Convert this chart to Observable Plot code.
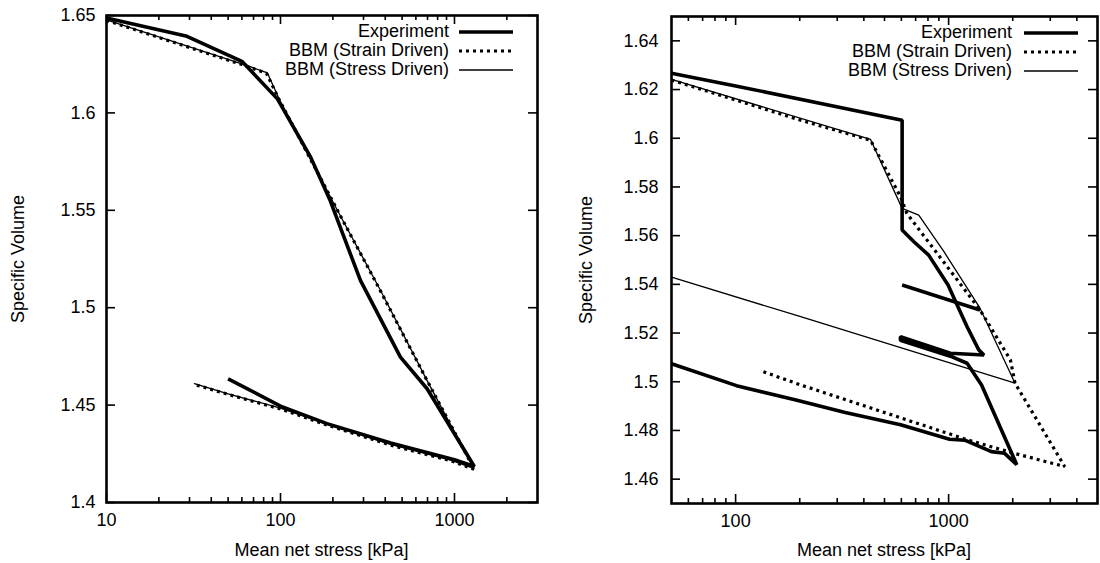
<!DOCTYPE html>
<html><head><meta charset="utf-8">
<script src="https://cdn.jsdelivr.net/npm/d3@7"></script>
<script src="https://cdn.jsdelivr.net/npm/@observablehq/plot@0.6"></script>
<style>
body{margin:0;background:#fff;font-family:"Liberation Sans",Arial,Helvetica,sans-serif;color:#000;}
#wrap{position:relative;width:1100px;height:563px;overflow:hidden;background:#fff;}
.panel{position:absolute;top:0;}
.ylab{position:absolute;transform:translate(-50%,-50%) rotate(-90deg);white-space:nowrap;font-size:18px;}
.xlab{position:absolute;transform:translate(-50%,-50%);white-space:nowrap;font-size:18px;}
.leg{position:absolute;font-size:18px;line-height:19px;white-space:nowrap;}
</style></head><body><div id="wrap"></div>
<script>
// ---------- data ----------
const seriesNames = ["Experiment", "BBM (Strain Driven)", "BBM (Stress Driven)"];

// left panel ticks
const leftXTicks = [10, 100, 1000];
const leftXMinor = [20, 30, 40, 50, 60, 70, 80, 90, 200, 300, 400, 500, 600, 700, 800, 900, 2000];
const leftYTicks = [1.4, 1.45, 1.5, 1.55, 1.6, 1.65];
// right panel ticks
const rightXTicks = [100, 1000];
const rightXMinor = [60, 70, 80, 90, 200, 300, 400, 500, 600, 700, 800, 900, 2000, 3000, 4000];
const rightYTicks = [1.46, 1.48, 1.5, 1.52, 1.54, 1.56, 1.58, 1.6, 1.62, 1.64];

// left panel series: [mean net stress kPa, specific volume]
const leftExperiment = [[
  [10, 1.6487], [29, 1.6393], [60, 1.6265], [96, 1.6072], [149, 1.5773], [193, 1.555],
  [288, 1.514], [489, 1.4746], [696, 1.4584], [1300, 1.4185],
  [1000, 1.422], [430, 1.4305], [185, 1.4405], [100, 1.4495], [50, 1.4635]
]];
const leftStrain = [[
  [10, 1.6475], [60, 1.6248], [83, 1.6204], [98, 1.607], [211, 1.5505], [366, 1.5105],
  [696, 1.4626], [1300, 1.417],
  [950, 1.4215], [428, 1.4295], [185, 1.4398], [100, 1.448], [50, 1.4555], [32, 1.4606]
]];
const leftStress = [[
  [10, 1.6478], [60, 1.6252], [84, 1.6206], [99, 1.6065], [210, 1.5508], [370, 1.51],
  [700, 1.4622], [1290, 1.4175],
  [950, 1.4218], [430, 1.4298], [185, 1.4402], [100, 1.4484], [50, 1.4558], [32, 1.461]
]];

// right panel series
const rightExperiment = [
  [[50, 1.6267], [100, 1.6215], [605, 1.6074], [605, 1.5623], [687, 1.5575], [806, 1.552],
   [994, 1.5397], [1087, 1.5322], [1221, 1.5226], [1385, 1.5131], [1465, 1.511],
   [1019, 1.5117], [594, 1.5185], [594, 1.517], [1019, 1.5105], [1221, 1.5076],
   [1428, 1.4987], [2089, 1.4659], [1832, 1.4706], [1588, 1.4713], [1191, 1.476],
   [1010, 1.4764], [595, 1.4823], [327, 1.4874], [192, 1.4925], [101, 1.4984], [50, 1.5074]],
  [[605, 1.5397], [1404, 1.5295]]
];
const rightStrain = [[
  [50, 1.6239], [202, 1.6074], [430, 1.5992], [595, 1.5759], [637, 1.5691], [1404, 1.5295],
  [1950, 1.509], [2050, 1.4994], [3505, 1.4652],
  [2013, 1.4707], [1221, 1.4762], [202, 1.4987], [134, 1.5042]
]];
const rightStress = [[
  [50, 1.6242], [430, 1.5995], [605, 1.5712], [724, 1.5684], [951, 1.5534], [1404, 1.5302],
  [2050, 1.4994], [202, 1.5267], [50, 1.543]
]];

// ---------- helpers ----------
function toRows(segments, name) {
  const out = [];
  segments.forEach((seg, i) => seg.forEach(([p, v]) => out.push({p, v, seg: name + i})));
  return out;
}

const wrap = document.getElementById("wrap");
const FONT = "Liberation Sans, Arial, Helvetica, sans-serif";

function panel(cfg) {
  const W = cfg.width, H = cfg.height;
  const iw = W - cfg.ml - cfg.mr, ih = H - cfg.mt - cfg.mb;
  const plot = Plot.plot({
    width: W, height: H,
    marginLeft: cfg.ml, marginRight: cfg.mr, marginTop: cfg.mt, marginBottom: cfg.mb,
    x: {type: "log", domain: cfg.xDomain},
    y: {domain: cfg.yDomain},
    style: {fontFamily: FONT, fontSize: "18px", color: "black", background: "white", overflow: "visible"},
    marks: [
      Plot.axisX({ticks: cfg.xTicks, tickSize: 0, tickPadding: 11, tickFormat: d => String(d), label: null, fontSize: 18}),
      Plot.axisY({ticks: cfg.yTicks, tickSize: 0, tickPadding: cfg.yPad, tickFormat: d => String(d), label: null, fontSize: 18}),
      // inward major ticks, bottom & top
      Plot.tickX(cfg.xTicks, {x: d => d, insetTop: ih - 9, stroke: "black", strokeWidth: 1.6}),
      Plot.tickX(cfg.xTicks, {x: d => d, insetBottom: ih - 9, stroke: "black", strokeWidth: 1.6}),
      // inward minor ticks
      Plot.tickX(cfg.xMinor, {x: d => d, insetTop: ih - 5, stroke: "black", strokeWidth: 1.6}),
      Plot.tickX(cfg.xMinor, {x: d => d, insetBottom: ih - 5, stroke: "black", strokeWidth: 1.6}),
      // y ticks, left & right
      Plot.tickY(cfg.yTicks, {y: d => d, insetRight: iw - 9, stroke: "black", strokeWidth: 1.6}),
      Plot.tickY(cfg.yTicks, {y: d => d, insetLeft: iw - 9, stroke: "black", strokeWidth: 1.6}),
      // series
      Plot.line(toRows(cfg.stress, "s"), {x: "p", y: "v", z: "seg", stroke: "black", strokeWidth: 1.3, curve: "linear"}),
      Plot.line(toRows(cfg.strain, "d"), {x: "p", y: "v", z: "seg", stroke: "black", strokeWidth: 3.2, strokeDasharray: "3,4", strokeLinecap: "butt", strokeLinejoin: "miter", curve: "linear"}),
      Plot.line(toRows(cfg.exp, "e"), {x: "p", y: "v", z: "seg", stroke: "black", strokeWidth: 3.6, strokeLinejoin: "miter", strokeLinecap: "butt", curve: "linear"}),
      Plot.frame({stroke: "black", strokeWidth: 2.6})
    ]
  });
  const div = document.createElement("div");
  div.className = "panel";
  div.style.left = cfg.left + "px";
  div.appendChild(plot);
  wrap.appendChild(div);

  // axis titles
  const yl = document.createElement("div");
  yl.className = "ylab"; yl.textContent = "Specific Volume";
  yl.style.left = cfg.yLabelX + "px"; yl.style.top = (cfg.mt + ih / 2) + "px";
  wrap.appendChild(yl);
  const xl = document.createElement("div");
  xl.className = "xlab"; xl.textContent = "Mean net stress [kPa]";
  xl.style.left = (cfg.left + cfg.ml + iw / 2) + "px"; xl.style.top = cfg.xLabelY + "px";
  wrap.appendChild(xl);

  // legend (inside plot, top right)
  const styles = [
    {w: 3.6, dash: null},
    {w: 3.2, dash: "3,4"},
    {w: 1.3, dash: null}
  ];
  seriesNames.forEach((name, i) => {
    const cy = cfg.legY[i];
    const t = document.createElement("div");
    t.className = "leg"; t.textContent = name;
    t.style.right = (1100 - cfg.legTextRight) + "px";
    t.style.top = (cy - 10) + "px";
    wrap.appendChild(t);
    const svg = d3.create("svg").attr("width", cfg.legX2 - cfg.legX1 + 4).attr("height", 8)
      .style("position", "absolute").style("left", (cfg.legX1 - 2) + "px").style("top", (cy - 4) + "px");
    svg.append("line").attr("x1", 2).attr("x2", cfg.legX2 - cfg.legX1 + 2).attr("y1", 4).attr("y2", 4)
      .attr("stroke", "black").attr("stroke-width", styles[i].w)
      .attr("stroke-dasharray", styles[i].dash);
    wrap.appendChild(svg.node());
  });
}

panel({
  left: 0, width: 550, height: 563, ml: 106, mr: 13, mt: 15, mb: 61,
  xDomain: [10, 3000], yDomain: [1.4, 1.65],
  xTicks: leftXTicks, xMinor: leftXMinor, yTicks: leftYTicks, yPad: 11,
  exp: leftExperiment, strain: leftStrain, stress: leftStress,
  yLabelX: 18, xLabelY: 550,
  legTextRight: 449, legX1: 459, legX2: 513, legY: [32, 51, 70]
});
panel({
  left: 550, width: 550, height: 563, ml: 121, mr: 3, mt: 16, mb: 60,
  xDomain: [50, 5000], yDomain: [1.45, 1.65],
  xTicks: rightXTicks, xMinor: rightXMinor, yTicks: rightYTicks, yPad: 13,
  exp: rightExperiment, strain: rightStrain, stress: rightStress,
  yLabelX: 586, xLabelY: 550,
  legTextRight: 1012, legX1: 1024, legX2: 1078, legY: [33, 52, 71]
});
</script>
</body></html>
